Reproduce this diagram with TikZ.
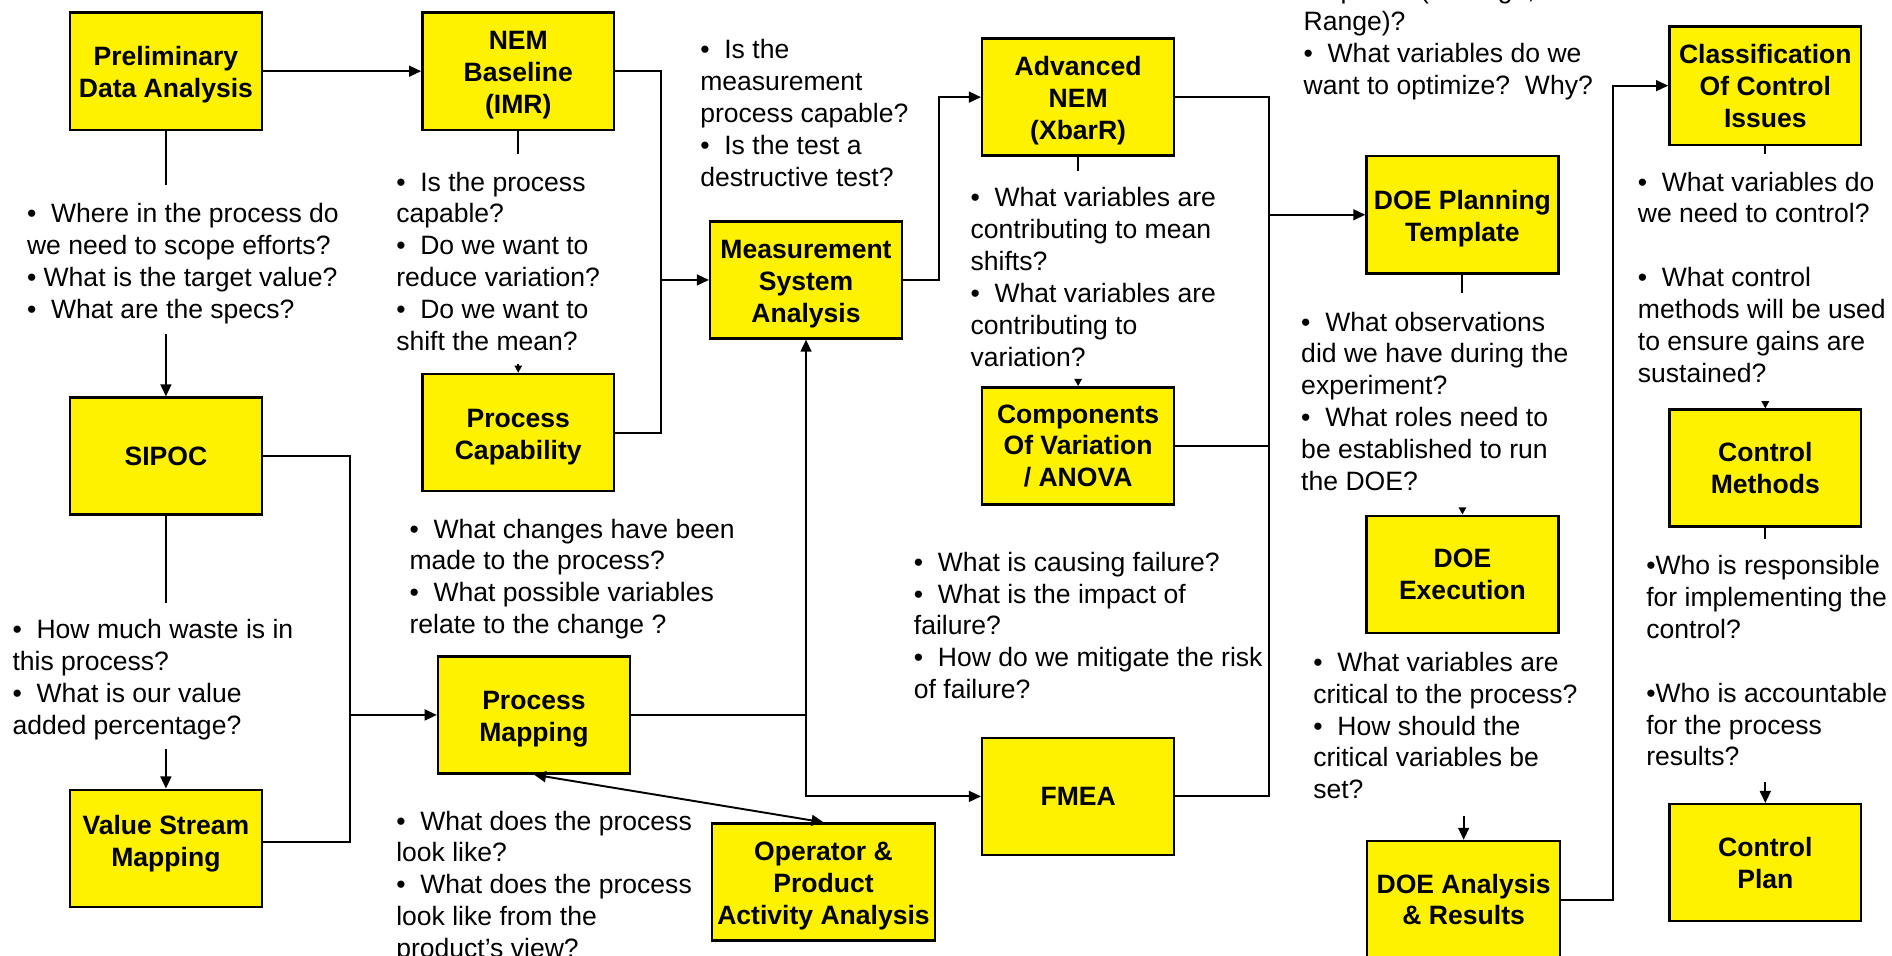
\documentclass[tikz,border=0pt]{standalone}
\usepackage{fontspec}
\setmainfont{Liberation Sans}
\usetikzlibrary{arrows.meta}
\newcommand{\lowr}{\rule{0pt}{11pt}}
\begin{document}
\begin{tikzpicture}[x=0.5pt,y=-0.5pt,
 box/.style={draw=black, fill=yellow, line width=1pt, minimum width=79.5pt, minimum height=48.5pt, align=center, inner sep=0pt, font=\fontsize{11}{13.2}\selectfont\bfseries},
 qtext/.style={anchor=north west, align=left, inner sep=0pt, font=\fontsize{11}{13.2}\selectfont},
 conn/.style={line width=0.8pt},
 arr/.style={conn, -{Triangle[length=5pt,width=4.5pt]}},
 tiny/.style={conn, -{Triangle[length=3pt,width=3pt]}},
 darr/.style={conn, {Triangle[length=5pt,width=4.5pt]}-{Triangle[length=5pt,width=4.5pt]}}]
\useasboundingbox (0,0) rectangle (1568,792);
\fill[white] (0,0) rectangle (1568,792);

% boxes
\node[box] (prelim) at (137.5,59) {\lowr Preliminary\\Data Analysis};
\node[box] (nem) at (429.5,59) {\lowr NEM\\Baseline\\(IMR)};
\node[box] (sipoc) at (137.5,378) {SIPOC};
\node[box] (vsm) at (137.5,703) {Value Stream\\Mapping\rule[-6.3pt]{0pt}{0pt}};
\node[box] (procap) at (429.5,358.5) {\lowr Process\\Capability};
\node[box] (msa) at (668,232) {\lowr Measurement\\System\\Analysis};
\node[box] (pmap) at (442.5,592.5) {\lowr Process\\Mapping};
\node[box, minimum width=92.5pt] (oper) at (682.5,731) {\lowr Operator \&\\Product\\Activity Analysis};
\node[box] (adv) at (893.5,80.5) {\lowr Advanced\\NEM\\(XbarR)};
\node[box] (comp) at (893.5,369.5) {Components\\Of Variation\\/ ANOVA};
\node[box] (fmea) at (893.5,660) {FMEA};
\node[box] (doep) at (1212,178) {\lowr DOE Planning\\Template};
\node[box] (doex) at (1212,476) {DOE\\Execution};
\node[box, minimum width=80pt] (doea) at (1213,745.5) {DOE Analysis\\\& Results};
\node[box, minimum height=49pt] (clas) at (1463,71) {Classification\\Of Control\\Issues};
\node[box] (cmeth) at (1463,388) {Control\\Methods};
\node[box] (cplan) at (1463,715) {Control\\Plan};

% question texts
\node[qtext] (t1) at (22,165.5) {\strut•~~Where in the process do\\we need to scope efforts?\\•~What is the target value?\\•~~What are the specs?};
\node[qtext] (t2) at (328,139.5) {\strut•~~Is the process\\capable?\\•~~Do we want to\\reduce variation?\\•~~Do we want to\\shift the mean?};
\node[qtext] (t3) at (580,30) {\strut•~~Is the\\measurement\\process capable?\\•~~Is the test a\\destructive test?};
\node[qtext] (t4) at (804,152.5) {\strut•~~What variables are\\contributing to mean\\shifts?\\•~~What variables are\\contributing to\\variation?};
\node[qtext] (t5) at (1080,-20) {\strut response (Average,\\Range)?\\•~~What variables do we\\want to optimize?~~Why?};
\node[qtext] (t6) at (1078,255.5) {\strut•~~What observations\\did we have during the\\experiment?\\•~~What roles need to\\be established to run\\the DOE?};
\node[qtext] (t7) at (1088,537.5) {\strut•~~What variables are\\critical to the process?\\•~~How should the\\critical variables be\\set?};
\node[qtext] (t8) at (1357,139.5) {\strut•~~What variables do\\we need to control?\\[13.2pt]•~~What control\\methods will be used\\to ensure gains are\\sustained?};
\node[qtext] (t9) at (1364,457.5) {\strut•Who is responsible\\for implementing the\\control?\\[13.2pt]•Who is accountable\\for the process\\results?};
\node[qtext] (t10) at (10,510.5) {\strut•~~How much waste is in\\this process?\\•~~What is our value\\added percentage?};
\node[qtext] (t11) at (339,427) {\strut•~~What changes have been\\made to the process?\\•~~What possible variables\\relate to the change ?};
\node[qtext] (t12) at (328,669) {\strut•~~What does the process\\look like?\\•~~What does the process\\look like from the\\product’s view?};
\node[qtext] (t13) at (757,454.5) {\strut•~~What is causing failure?\\•~~What is the impact of\\failure?\\•~~How do we mitigate the risk\\of failure?};

% connectors
\coordinate (p1) at (137.5,153);
\coordinate (p2) at (137.5,277);
\draw[conn] (prelim.south) -- (p1);
\draw[arr] (p2) -- (sipoc.north);
\draw[arr] (prelim.east) -- (nem.west);

\coordinate (nemS) at (429.5,128);
\draw[conn] (nem.south) -- (nemS);
\coordinate (capT) at (429.5,302);
\draw[tiny] (capT) -- (procap.north);

\coordinate (jA1) at (548,59);
\coordinate (jA2) at (548,358.5);
\coordinate (jA3) at (548,232);
\draw[conn] (nem.east) -- (jA1) -- (jA2) -- (procap.east);
\draw[arr] (jA3) -- (msa.west);

\coordinate (jB1) at (778,232);
\coordinate (jB2) at (778,80.5);
\draw[arr] (msa.east) -- (jB1) -- (jB2) -- (adv.west);

\coordinate (advS) at (893.5,142);
\draw[conn] (adv.south) -- (advS);
\coordinate (compT) at (893.5,315);
\draw[tiny] (compT) -- (comp.north);

\coordinate (jC1) at (1052,80.5);
\coordinate (jC2) at (1052,660);
\coordinate (jC3) at (1052,369.5);
\coordinate (jC4) at (1052,178);
\draw[conn] (adv.east) -- (jC1) -- (jC2) -- (fmea.east);
\draw[conn] (comp.east) -- (jC3);
\draw[arr] (jC4) -- (doep.west);

\coordinate (doepS) at (1212,243);
\draw[conn] (doep.south) -- (doepS);
\coordinate (doexT) at (1212,421);
\draw[tiny] (doexT) -- (doex.north);
\coordinate (doeaT) at (1213,676);
\draw[arr] (doeaT) -- (doea.north);

\coordinate (jD1) at (1337,745.5);
\coordinate (jD2) at (1337,71);
\draw[arr] (doea.east) -- (jD1) -- (jD2) -- (clas.west);

\coordinate (clasS) at (1463,128);
\draw[conn] (clas.south) -- (clasS);
\coordinate (cmT) at (1463,333);
\draw[tiny] (cmT) -- (cmeth.north);
\coordinate (cmS) at (1463,447);
\draw[conn] (cmeth.south) -- (cmS);
\coordinate (cpT) at (1463,648);
\draw[arr] (cpT) -- (cplan.north);

\coordinate (sS) at (137.5,500);
\draw[conn] (sipoc.south) -- (sS);
\coordinate (vT) at (137.5,621);
\draw[arr] (vT) -- (vsm.north);

\coordinate (jE1) at (290,378);
\coordinate (jE2) at (290,698);
\coordinate (jE3) at (290,592.5);
\draw[conn] (sipoc.east) -- (jE1) -- (jE2) -- (jE2 -| vsm.east);
\draw[arr] (jE3) -- (pmap.west);

\coordinate (jF1) at (668,592.5);
\coordinate (jF2) at (668,660);
\draw[arr] (pmap.east) -- (jF1) -- (msa.south);
\draw[arr] (jF1) -- (jF2) -- (fmea.west);

\draw[darr] (oper.north) -- (pmap.south);
\end{tikzpicture}
\end{document}
